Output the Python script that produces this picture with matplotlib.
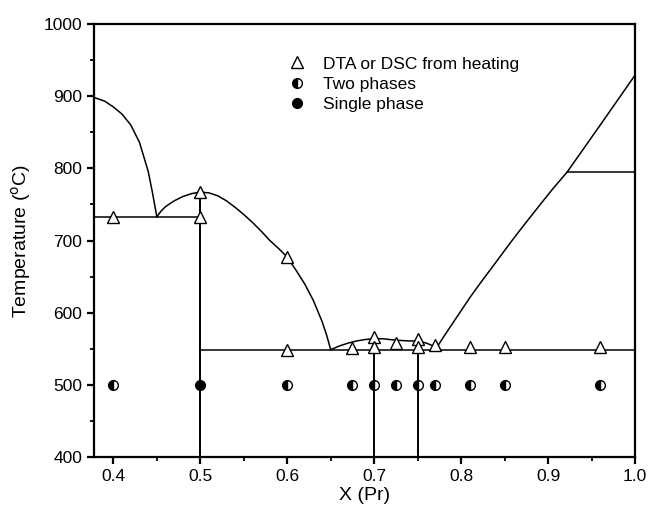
import matplotlib
matplotlib.use("Agg")
import matplotlib.pyplot as plt
import numpy as np

plt.rcParams['font.family'] = ['Liberation Sans', 'DejaVu Sans']

# DTA / DSC points (heating)
dta_x = [0.40, 0.50, 0.50, 0.60, 0.60, 0.675, 0.70, 0.70, 0.725, 0.75, 0.75, 0.77, 0.81, 0.85, 0.96]
dta_t = [733, 767, 733, 677, 549, 551, 566, 552, 558, 563, 552, 555, 553, 553, 553]

# annealed samples at 500 C
two_x = [0.40, 0.60, 0.675, 0.70, 0.725, 0.75, 0.77, 0.81, 0.85, 0.96]
two_t = [500] * len(two_x)
single_x = [0.50]
single_t = [500]

# phase boundaries
liq_left_x = [0.378, 0.39, 0.40, 0.41, 0.42, 0.43, 0.44, 0.445, 0.45]
liq_left_t = [898, 893, 885, 875, 860, 836, 796, 766, 733]

dome_x = [0.45, 0.455, 0.46, 0.47, 0.48, 0.49, 0.50, 0.51, 0.52, 0.53, 0.54, 0.55,
          0.56, 0.57, 0.58, 0.59, 0.60, 0.61, 0.62, 0.63, 0.64, 0.645, 0.65]
dome_t = [733, 741, 747, 755, 761, 765, 767, 766, 762, 755, 746, 736,
          725, 713, 700, 689, 677, 659, 640, 617, 588, 570, 549]

small_x = [0.65, 0.66, 0.67, 0.68, 0.69, 0.70, 0.71, 0.725, 0.74, 0.75, 0.76, 0.772]
small_t = [549, 554, 558, 561, 563, 564, 564, 562, 561, 561, 558, 552]

liq_right_x = [0.772, 0.78, 0.79, 0.80, 0.81, 0.822, 0.84, 0.856, 0.87, 0.891, 0.905, 0.922, 0.96, 1.0]
liq_right_t = [552, 567, 585, 603, 621, 641, 670, 696, 718, 750, 771, 795, 860, 929]

eut_left = (0.378, 0.50, 733)
eut_main = (0.50, 1.0, 549)
peri_right = (0.922, 1.0, 795)
compounds = [(0.50, 767), (0.70, 564), (0.75, 561)]

fig = plt.figure(figsize=(6.5, 5.08), dpi=100)
ax = fig.add_axes([0.145, 0.100, 0.832, 0.853])

lc = 'black'
ax.plot(liq_left_x, liq_left_t, color=lc, lw=1.1)
ax.plot(dome_x, dome_t, color=lc, lw=1.1)
ax.plot(small_x, small_t, color=lc, lw=1.1)
ax.plot(liq_right_x, liq_right_t, color=lc, lw=1.1)
for x0, x1, t in [eut_left, eut_main, peri_right]:
    ax.plot([x0, x1], [t, t], color=lc, lw=1.1)
for x, t in compounds:
    ax.plot([x, x], [400, t], color=lc, lw=1.4)

ax.plot(dta_x, dta_t, linestyle='none', marker='^', ms=8, mfc='white', mec='black',
        mew=1.0, label='DTA or DSC from heating', zorder=5)
ax.plot(two_x, two_t, linestyle='none', marker='o', ms=7, fillstyle='left',
        mfc='black', markerfacecoloralt='white', mec='black', mew=1.0,
        label='Two phases', zorder=5)
ax.plot(single_x, single_t, linestyle='none', marker='o', ms=7, mfc='black', mec='black',
        label='Single phase', zorder=5)

ax.set_xlim(0.378, 1.0)
ax.set_ylim(400, 1000)
ax.set_xticks([0.4, 0.5, 0.6, 0.7, 0.8, 0.9, 1.0])
ax.set_xticklabels(['0.4', '0.5', '0.6', '0.7', '0.8', '0.9', '1.0'])
ax.set_xticks(np.arange(0.45, 1.0, 0.1), minor=True)
ax.set_yticks(np.arange(400, 1001, 100))
ax.set_yticks(np.arange(450, 1000, 100), minor=True)
ax.tick_params(which='major', direction='out', length=5, width=1.6, labelsize=12.5)
ax.tick_params(which='minor', direction='out', length=3, width=1.3)
for s in ax.spines.values():
    s.set_linewidth(1.6)

ax.set_xlabel('X (Pr)', fontsize=14, labelpad=2)
ax.set_ylabel('Temperature ($^{\\rm o}$C)', fontsize=14, labelpad=8)

leg = ax.legend(loc='upper left', bbox_to_anchor=(0.342, 0.945), frameon=False,
                fontsize=12.5, handlelength=1.0, handletextpad=1.0,
                labelspacing=0.3, borderpad=0)

fig.savefig('out.png', dpi=100)
